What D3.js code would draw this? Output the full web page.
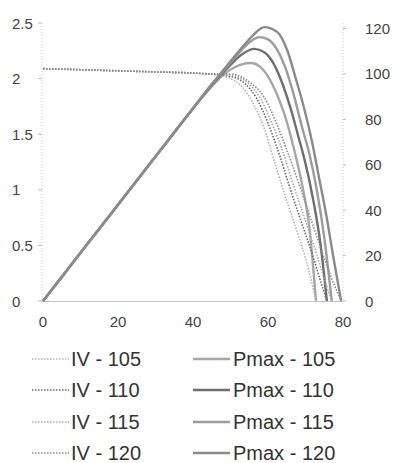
<!DOCTYPE html>
<html><head><meta charset="utf-8">
<script src="https://cdn.jsdelivr.net/npm/d3@7"></script>
<style>body{margin:0;background:#fff}svg{display:block}text{font-family:"Liberation Sans",Arial,sans-serif}</style>
</head><body><svg id="c" width="393" height="463"></svg>
<script>
// ---- data ----
const seriesNames = ["105","110","115","120"];
const xTicks = [0,20,40,60,80];
const leftTicks = [0,0.5,1,1.5,2,2.5];
const rightTicks = [0,20,40,60,80,100,120];

// IV curves: voltage / current
const iv105V = [0,10,20,30,40,45,50,53,56,59,62,65,68,70,72,72.8];
const iv105I = [2.09,2.08,2.07,2.06,2.05,2.04,2.0,1.93,1.78,1.55,1.22,0.9,0.6,0.38,0.12,0];
const iv110V = [0,10,20,30,40,45,50,54,57,60,63,66,69,72,74,75.7];
const iv110I = [2.09,2.08,2.07,2.06,2.05,2.04,2.02,1.95,1.82,1.6,1.32,1.0,0.7,0.4,0.18,0];
const iv115V = [0,10,20,30,40,45,50,55,58,61,64,67,70,73,75,77];
const iv115I = [2.09,2.08,2.07,2.06,2.05,2.04,2.03,1.95,1.82,1.6,1.34,1.02,0.72,0.42,0.2,0];
const iv120V = [0,10,20,30,40,45,50,55,59,62,65,68,71,74,77,79.5];
const iv120I = [2.09,2.08,2.07,2.06,2.05,2.04,2.04,1.97,1.83,1.62,1.36,1.08,0.78,0.48,0.2,0];

// Power curves: voltage / power
const p105V = [0,10,20,30,40,45,48,51,53,55.5,58,60.5,63,65,67,69,71,72.8];
const p105P = [0,21.2,42.4,63.6,84.8,94.5,99.5,102.8,104.2,104.8,103,97.5,88.5,79,66.5,52,33,0];
const p110V = [0,10,20,30,40,45,50,53,56.3,59,61.5,64,66,68,70,72,74,75.7];
const p110P = [0,21.2,42.4,63.6,84.8,95,104,108.5,111,109.5,104.5,95,85,73,60.5,45,25,0];
const p115V = [0,10,20,30,40,45,50,53,55.5,57.7,60,62.5,65,67,69,71,73,75,77];
const p115P = [0,21.2,42.4,63.6,84.8,95.4,105,110.5,114.5,116.2,115.2,110.5,101,90,77,65,49,28,0];
const p120V = [0,10,20,30,40,45,50,53,56,59,62.5,65.1,67.5,69.6,71.8,73.6,75.5,77.3,79.5];
const p120P = [0,21.2,42.4,63.6,84.8,95.4,105.5,111.5,117,120.6,118.4,110.5,97.4,85.1,69.7,54.4,38.2,20.6,0];

const ivColors = ["#b4b4b4","#6a6a6a","#ababab","#8c8c8c"];
const pColors = ["#a6a6a6","#6e6e6e","#9c9c9c","#8a8a8a"];

// ---- drawing ----
const svg = d3.select("#c");
const x = d3.scaleLinear().domain([0,80]).range([43,343]);
const yL = d3.scaleLinear().domain([0,2.5]).range([301,23]);
const yR = d3.scaleLinear().domain([0,122.4]).range([301,23]);

// axes lines
svg.append("line").attr("x1",42).attr("x2",42).attr("y1",23).attr("y2",301)
  .attr("stroke","#d0d0d0").attr("stroke-dasharray","1,2");
svg.append("line").attr("x1",343).attr("x2",343).attr("y1",23).attr("y2",301)
  .attr("stroke","#d0d0d0").attr("stroke-dasharray","1,2");
svg.append("line").attr("x1",42).attr("x2",343).attr("y1",301.5).attr("y2",301.5)
  .attr("stroke","#c4c4c4").attr("stroke-width",1);

// left ticks
const gl = svg.append("g");
leftTicks.forEach(t=>{
  gl.append("line").attr("x1",38).attr("x2",42).attr("y1",yL(t)).attr("y2",yL(t)).attr("stroke","#bbb");
  gl.append("text").attr("x",12).attr("y",yL(t)+5.5).attr("font-size",15).attr("fill","#444").text(t);
});
const gr = svg.append("g");
rightTicks.forEach(t=>{
  gr.append("line").attr("x1",343).attr("x2",346).attr("y1",yR(t)).attr("y2",yR(t)).attr("stroke","#bbb");
  gr.append("text").attr("x",365).attr("y",yR(t)+5.5).attr("font-size",15).attr("fill","#444").text(t);
});
const gx = svg.append("g");
xTicks.forEach(t=>{
  gx.append("text").attr("x",x(t)).attr("y",327).attr("font-size",15).attr("fill","#444")
    .attr("text-anchor","middle").text(t);
});

const ivData = [[iv105V,iv105I],[iv110V,iv110I],[iv115V,iv115I],[iv120V,iv120I]];
const pData = [[p105V,p105P],[p110V,p110P],[p115V,p115P],[p120V,p120P]];

const lineL = d3.line().x(d=>x(d[0])).y(d=>yL(d[1])).curve(d3.curveMonotoneX);
const lineR = d3.line().x(d=>x(d[0])).y(d=>yR(d[1])).curve(d3.curveMonotoneX);

pData.forEach((s,i)=>{
  const pts = s[0].map((v,j)=>[v,s[1][j]]);
  svg.append("path").attr("d",lineR(pts)).attr("fill","none")
    .attr("stroke",pColors[i]).attr("stroke-width",2.4);
});
ivData.forEach((s,i)=>{
  const pts = s[0].map((v,j)=>[v,s[1][j]]);
  svg.append("path").attr("d",lineL(pts)).attr("fill","none")
    .attr("stroke",ivColors[i]).attr("stroke-width",1.6).attr("stroke-dasharray","1.5,1.5");
});

// legend
const legY = [359,390,422,453];
seriesNames.forEach((n,i)=>{
  svg.append("line").attr("x1",32).attr("x2",69).attr("y1",legY[i]).attr("y2",legY[i])
    .attr("stroke",ivColors[i]).attr("stroke-width",1.6).attr("stroke-dasharray","1.5,1.5");
  svg.append("text").attr("x",71).attr("y",legY[i]+7).attr("font-size",20).attr("fill","#333").text("IV - "+n);
  svg.append("line").attr("x1",193).attr("x2",230).attr("y1",legY[i]).attr("y2",legY[i])
    .attr("stroke",pColors[i]).attr("stroke-width",2.4);
  svg.append("text").attr("x",233).attr("y",legY[i]+7).attr("font-size",20).attr("fill","#333").text("Pmax - "+n);
});
</script></body></html>
